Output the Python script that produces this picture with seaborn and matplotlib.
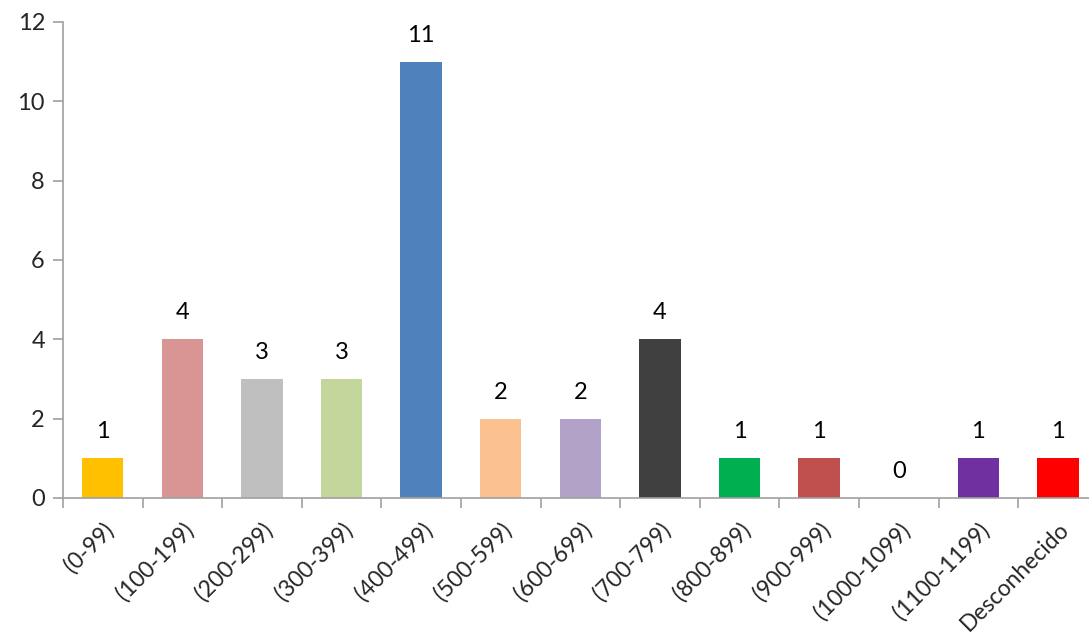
import matplotlib
matplotlib.use('agg')
import seaborn as sns
import matplotlib.pyplot as plt
import pandas as pd

categories = ['(0-99)', '(100-199)', '(200-299)', '(300-399)', '(400-499)', '(500-599)',
              '(600-699)', '(700-799)', '(800-899)', '(900-999)', '(1000-1099)',
              '(1100-1199)', 'Desconhecido']
counts = [1, 4, 3, 3, 11, 2, 2, 4, 1, 1, 0, 1, 1]
colors = ['#FFC000', '#D99594', '#BFBFBF', '#C3D69B', '#4F81BD', '#FAC090',
          '#B3A2C7', '#404040', '#00B050', '#C0504D', '#FFFFFF', '#7030A0', '#FF0000']

sns.set_style('white')
plt.rcParams['font.family'] = ['Lato', 'DejaVu Sans']

df = pd.DataFrame({'cat': categories, 'n': counts})

fig = plt.figure(figsize=(10.89, 6.41), dpi=100)
ax = fig.add_axes([63 / 1089, 1 - 498 / 641, 1 - 63 / 1089, (498 - 22) / 641])
sns.barplot(data=df, x='cat', y='n', hue='cat', palette=colors, legend=False,
            width=0.52, saturation=1, linewidth=0, ax=ax)

for i, v in enumerate(counts):
    ax.text(i, v + 0.4, str(v), ha='center', va='bottom', fontsize=17, color='black')

ax.set_ylim(0, 12)
ax.set_xlim(-0.5, 12.39)
ax.set_yticks(range(0, 13, 2))
ax.set_xlabel('')
ax.set_ylabel('')

grey = '#A0A0A0'
for s in ['top', 'right']:
    ax.spines[s].set_visible(False)
for s in ['left', 'bottom']:
    ax.spines[s].set_color(grey)
    ax.spines[s].set_linewidth(1.2)

ax.tick_params(axis='y', direction='out', length=7, width=1.2, color=grey,
               labelsize=17, left=True, pad=6)
ax.set_xticks(range(len(categories)))
ax.set_xticklabels(categories, rotation=45, ha='right', rotation_mode='anchor', fontsize=16.5)
ax.tick_params(axis='x', which='major', length=0, pad=15)
ax.set_xticks([i - 0.5 for i in range(len(categories))], minor=True)
ax.tick_params(axis='x', which='minor', direction='out', length=7, width=1.2, color=grey, bottom=True)

fig.savefig('out.png', dpi=100)
